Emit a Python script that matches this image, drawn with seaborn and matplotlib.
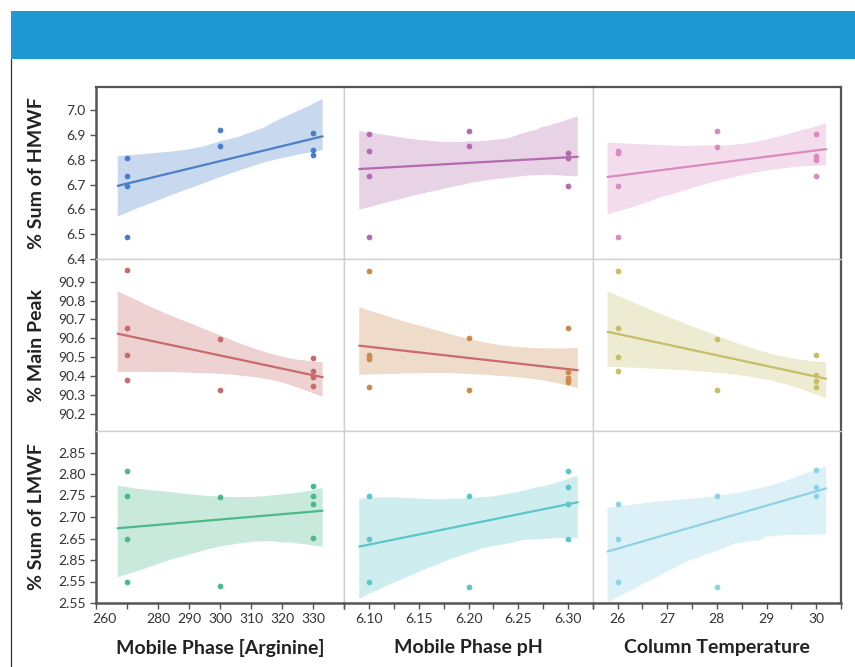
import matplotlib
matplotlib.use("Agg")
import matplotlib.pyplot as plt
import matplotlib.transforms as mtransforms
from matplotlib.collections import PolyCollection
from matplotlib.patches import Rectangle
from matplotlib.lines import Line2D
import pandas as pd
import seaborn as sns

sns.set_theme(style="ticks")
plt.rcParams["font.family"] = ["Lato", "DejaVu Sans"]

# ---- factor settings and responses (one list per panel) ----
arg_hmwf_x = [270, 270, 270, 270, 300, 300, 330, 330, 330]
arg_hmwf_y = [6.807, 6.734, 6.694, 6.487, 6.919, 6.857, 6.906, 6.838, 6.818]
ph_hmwf_x = [6.10, 6.10, 6.10, 6.10, 6.20, 6.20, 6.30, 6.30, 6.30]
ph_hmwf_y = [6.902, 6.837, 6.734, 6.487, 6.916, 6.856, 6.826, 6.808, 6.696]
temp_hmwf_x = [26, 26, 26, 26, 28, 28, 30, 30, 30, 30]
temp_hmwf_y = [6.837, 6.827, 6.695, 6.487, 6.916, 6.850, 6.903, 6.817, 6.800, 6.734]

arg_main_x = [270, 270, 270, 270, 300, 300, 330, 330, 330, 330]
arg_main_y = [90.961, 90.652, 90.510, 90.380, 90.597, 90.326, 90.496, 90.428, 90.396, 90.345]
ph_main_x = [6.10, 6.10, 6.10, 6.10, 6.10, 6.20, 6.20, 6.30, 6.30, 6.30, 6.30, 6.30]
ph_main_y = [90.958, 90.512, 90.501, 90.492, 90.344, 90.602, 90.326,
             90.653, 90.424, 90.389, 90.380, 90.370]
temp_main_x = [26, 26, 26, 26, 28, 28, 30, 30, 30, 30]
temp_main_y = [90.959, 90.655, 90.501, 90.426, 90.597, 90.328, 90.510, 90.407, 90.375, 90.344]

arg_lmwf_x = [270, 270, 270, 270, 300, 300, 330, 330, 330, 330]
arg_lmwf_y = [2.808, 2.748, 2.649, 2.549, 2.746, 2.540, 2.771, 2.750, 2.730, 2.651]
ph_lmwf_x = [6.10, 6.10, 6.10, 6.20, 6.20, 6.30, 6.30, 6.30, 6.30]
ph_lmwf_y = [2.749, 2.649, 2.549, 2.749, 2.538, 2.807, 2.770, 2.731, 2.650]
temp_lmwf_x = [26, 26, 26, 28, 28, 30, 30, 30]
temp_lmwf_y = [2.731, 2.649, 2.549, 2.749, 2.538, 2.810, 2.770, 2.749]

x_titles = ["Mobile Phase [Arginine]", "Mobile Phase pH", "Column Temperature"]
y_titles = ["% Sum of HMWF", "% Main Peak", "% Sum of LMWF"]

hmwf_ticks = [6.4, 6.5, 6.6, 6.7, 6.8, 6.9, 7.0]
hmwf_labels = ["6.4", "6.5", "6.6", "6.7", "6.8", "6.9", "7.0"]
main_ticks = [90.2, 90.3, 90.4, 90.5, 90.6, 90.7, 90.8, 90.9]
main_labels = ["90.2", "90.3", "90.4", "90.5", "90.6", "90.7", "90.8", "90.9"]
lmwf_ticks = [2.50, 2.55, 2.60, 2.65, 2.70, 2.75, 2.80, 2.85]
lmwf_labels = ["2.55", "2.55", "2.85", "2.65", "2.70", "2.75", "2.80", "2.85"]

arg_ticks = [260, 270, 280, 290, 300, 310, 320, 330, 340]
arg_labels = ["260", "", "280", "290", "300", "310", "320", "330", ""]
ph_ticks = [6.075, 6.10, 6.125, 6.15, 6.175, 6.20, 6.225, 6.25, 6.275, 6.30, 6.325]
ph_labels = ["", "6.10", "", "6.15", "", "6.20", "", "6.25", "", "6.30", ""]
temp_ticks = [25.5, 26, 26.5, 27, 27.5, 28, 28.5, 29, 29.5, 30, 30.5]
temp_labels = ["", "26", "", "27", "", "28", "", "29", "", "30", ""]

panels = [
    [(arg_hmwf_x, arg_hmwf_y), (ph_hmwf_x, ph_hmwf_y), (temp_hmwf_x, temp_hmwf_y)],
    [(arg_main_x, arg_main_y), (ph_main_x, ph_main_y), (temp_main_x, temp_main_y)],
    [(arg_lmwf_x, arg_lmwf_y), (ph_lmwf_x, ph_lmwf_y), (temp_lmwf_x, temp_lmwf_y)],
]

point_colors = [["#4a80c9", "#b46aae", "#d98bbf"],
                ["#c96a6c", "#cc8a4c", "#c6be6a"],
                ["#4cb98b", "#5ec5c9", "#8ed2e5"]]
line_colors = [["#4a80c9", "#b46aae", "#d98bbf"],
               ["#c96a6c", "#c96a6c", "#c6be6a"],
               ["#4cb98b", "#5ec5c9", "#8ed2e5"]]

x_limits = [(260, 340), (6.075, 6.325), (25.5, 30.5)]
y_limits = [(6.40, 7.093), (90.109, 91.02), (2.50, 2.90)]
x_tick_sets = [(arg_ticks, arg_labels), (ph_ticks, ph_labels), (temp_ticks, temp_labels)]
y_tick_sets = [(hmwf_ticks, hmwf_labels), (main_ticks, main_labels), (lmwf_ticks, lmwf_labels)]

fig, axes = plt.subplots(3, 3, figsize=(8.55, 6.67), dpi=100)
fig.subplots_adjust(left=96 / 855, right=841 / 855, top=1 - 87 / 667,
                    bottom=1 - 603 / 667, wspace=0, hspace=0)

# header banner and page rule
fig.patches.append(Rectangle((11 / 855, 1 - 59 / 667), 1 - 11 / 855, 48 / 667,
                             transform=fig.transFigure, facecolor="#1e98d2",
                             edgecolor="none", zorder=0))
fig.lines.append(Line2D([11 / 855, 11 / 855], [0, 1 - 59 / 667],
                        transform=fig.transFigure, color="#333333", lw=0.9))

dark = "#555555"
light = "#d0d0d0"

for r in range(3):
    for c in range(3):
        ax = axes[r, c]
        xs, ys = panels[r][c]
        df = pd.DataFrame({"x": xs, "y": ys})
        sns.regplot(data=df, x="x", y="y", ax=ax, truncate=False, ci=95,
                    n_boot=4000, seed=3,
                    scatter_kws=dict(s=17, color=point_colors[r][c], linewidths=0,
                                     alpha=1, zorder=3),
                    line_kws=dict(color=line_colors[r][c], lw=1.6, zorder=2))
        for coll in ax.collections:
            if isinstance(coll, PolyCollection):
                coll.set_facecolor(point_colors[r][c])
                coll.set_alpha(0.3)
                coll.set_edgecolor("none")
        ax.set_xlim(*x_limits[c])
        ax.set_ylim(*y_limits[r])
        ax.set_xlabel("")
        ax.set_ylabel("")

        for side in ["left", "right", "top", "bottom"]:
            ax.spines[side].set_visible(True)
            ax.spines[side].set_color(light)
            ax.spines[side].set_linewidth(1.0)
        if c == 0:
            ax.spines["left"].set_color(dark)
            ax.spines["left"].set_linewidth(1.8)
        if c == 2:
            ax.spines["right"].set_color(dark)
            ax.spines["right"].set_linewidth(1.6)
        if r == 0:
            ax.spines["top"].set_color(dark)
            ax.spines["top"].set_linewidth(1.6)
        if r == 2:
            ax.spines["bottom"].set_color(dark)
            ax.spines["bottom"].set_linewidth(1.8)

        ax.tick_params(which="both", direction="out", length=4, width=1,
                       color=dark, labelsize=10, labelcolor="#333333",
                       left=(c == 0), labelleft=(c == 0),
                       bottom=(r == 2), labelbottom=(r == 2),
                       top=False, right=False)
        if c == 0:
            yt, yl = y_tick_sets[r]
            ax.set_yticks(yt)
            ax.set_yticklabels(yl)
            ax.set_ylabel(y_titles[r], fontsize=14, fontweight="bold", color="#222222")
            ax.yaxis.set_label_coords(-0.205, 0.5)
        else:
            ax.set_yticks([])
        if r == 2:
            xt, xl = x_tick_sets[c]
            ax.set_xticks(xt)
            ax.set_xticklabels(xl)
            ax.set_xlabel(x_titles[c], fontsize=14, fontweight="bold", color="#222222")
            ax.xaxis.set_label_coords(0.5, -0.21)
        else:
            ax.set_xticks([])

# the first arginine label sits just inside the axis edge
first = axes[2, 0].get_xticklabels()[0]
first.set_transform(first.get_transform() +
                    mtransforms.ScaledTranslation(0.08, 0, fig.dpi_scale_trans))

fig.savefig("out.png", dpi=100, facecolor="white")
